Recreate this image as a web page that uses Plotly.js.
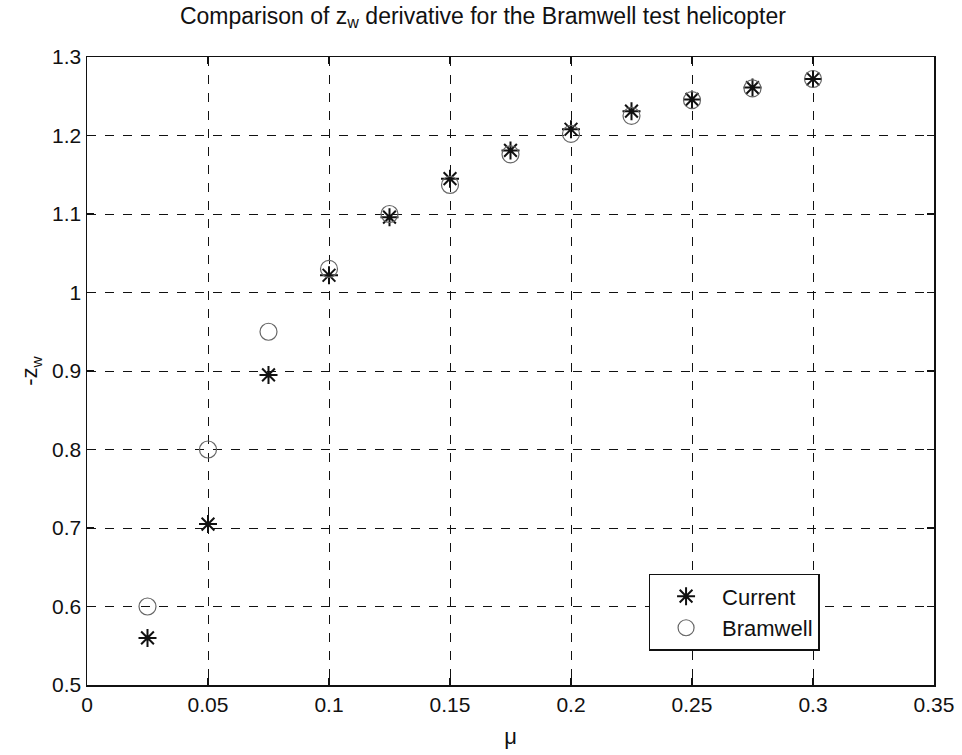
<!DOCTYPE html>
<html>
<head>
<meta charset="utf-8">
<script src="https://cdn.plot.ly/plotly-3.0.1.min.js"></script>
<style>html,body{margin:0;padding:0;background:#fff;}#chart{width:962px;height:755px;}</style>
</head>
<body>
<div id="chart"></div>
<script>
const mu = [0.025, 0.05, 0.075, 0.1, 0.125, 0.15, 0.175, 0.2, 0.225, 0.25, 0.275, 0.3];
const current = [0.56, 0.705, 0.895, 1.022, 1.096, 1.145, 1.181, 1.208, 1.231, 1.246, 1.261, 1.272];
const bramwell = [0.60, 0.80, 0.95, 1.030, 1.100, 1.137, 1.176, 1.202, 1.225, 1.245, 1.260, 1.272];
const xTicks = [0, 0.05, 0.1, 0.15, 0.2, 0.25, 0.3, 0.35];
const xTickText = ['0', '0.05', '0.1', '0.15', '0.2', '0.25', '0.3', '0.35'];
const yTicks = [0.5, 0.6, 0.7, 0.8, 0.9, 1.0, 1.1, 1.2, 1.3];
const yTickText = ['0.5', '0.6', '0.7', '0.8', '0.9', '1', '1.1', '1.2', '1.3'];

const fam = 'Liberation Sans, Arial, sans-serif';
const ink = '#111';

const traces = [
  {x: mu, y: current, name: 'Current', mode: 'markers', type: 'scatter',
   marker: {symbol: 'asterisk-open', size: 15, color: ink, line: {color: ink, width: 2}}},
  {x: mu, y: bramwell, name: 'Bramwell', mode: 'markers', type: 'scatter',
   marker: {symbol: 'circle-open', size: 17, color: '#666', line: {color: '#666', width: 1.2}}}
];

const axisCommon = {
  showline: true, linecolor: ink, linewidth: 1.5, mirror: 'ticks',
  ticks: 'inside', ticklen: 7, tickcolor: ink, tickwidth: 1.5,
  showgrid: true, gridcolor: ink, griddash: 'dash', gridwidth: 1,
  zeroline: false, automargin: false,
  tickfont: {family: fam, size: 21, color: ink}
};

const layout = {
  width: 962, height: 755,
  paper_bgcolor: '#fff', plot_bgcolor: '#fff',
  margin: {l: 87, r: 28, t: 57, b: 70},
  font: {family: fam, color: ink},
  title: {text: 'Comparison of z<sub>w</sub> derivative for the Bramwell test helicopter',
          font: {family: fam, size: 23, color: ink}, x: 0.502, xanchor: 'center', y: 0.99, yanchor: 'top'},
  xaxis: Object.assign({}, axisCommon, {
    range: [0, 0.35], tickvals: xTicks, ticktext: xTickText,
    title: {text: 'μ', font: {family: fam, size: 22, color: ink}, standoff: 14}
  }),
  yaxis: Object.assign({}, axisCommon, {
    range: [0.5, 1.3], tickvals: yTicks, ticktext: yTickText,
    title: {text: '-z<sub>w</sub>', font: {family: fam, size: 22, color: ink}, standoff: 8}
  }),
  showlegend: true,
  legend: {x: 0.663, y: 0.177, xanchor: 'left', yanchor: 'top', bgcolor: '#fff',
           bordercolor: ink, borderwidth: 1.5,
           font: {family: fam, size: 22, color: ink}, itemwidth: 62, tracegroupgap: 0}
};

Plotly.newPlot('chart', traces, layout, {displayModeBar: false, staticPlot: true});
</script>
</body>
</html>
